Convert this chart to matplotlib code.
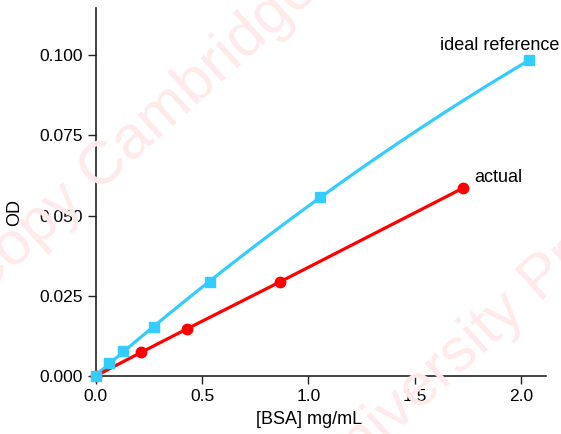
import matplotlib.pyplot as plt
import numpy as np

# BSA standard curve
ideal_x = [0.0, 0.063, 0.129, 0.274, 0.536, 1.054, 2.039]
ideal_od = [0.0, 0.0041, 0.0077, 0.0153, 0.0293, 0.0558, 0.0984]
actual_x = [0.0, 0.212, 0.427, 0.866, 1.729]
actual_od = [0.0, 0.0073, 0.0146, 0.0293, 0.0586]

x_ticks = [0.0, 0.5, 1.0, 1.5, 2.0]
y_ticks = [0.000, 0.025, 0.050, 0.075, 0.100]

blue = '#33ccff'
red = '#ff0000'
wm_color = '#ffeaea'

plt.rcParams['font.family'] = ['Liberation Sans', 'DejaVu Sans']

fig = plt.figure(figsize=(5.61, 4.34), dpi=100)
ax = fig.add_axes([0.171, 0.134, 0.802, 0.848])
ax.patch.set_alpha(0)

# faint watermark behind the plot, two tiled rows
wm_kw = dict(rotation=42, rotation_mode='anchor', va='baseline', fontsize=44,
             color=wm_color, zorder=0)
fig.text(0.175, 0.555, 'Cambridge University Press', ha='left', **wm_kw)
fig.text(0.175, 0.555, 'Copy ', ha='right', **wm_kw)
fig.text(0.583, -0.138, 'University Press', ha='left', **wm_kw)
fig.text(0.583, -0.138, 'Copy Cambridge ', ha='right', **wm_kw)

# smooth curve through the ideal points (quadratic fit)
coef = np.polyfit(ideal_x, ideal_od, 2)
xs = np.linspace(0, max(ideal_x), 200)
ax.plot(xs, np.polyval(coef, xs), color=blue, lw=2.3, zorder=3, clip_on=False)
ax.plot(ideal_x, ideal_od, 's', color=blue, ms=7.5, zorder=5, clip_on=False)

ax.plot(actual_x, actual_od, '-o', color=red, lw=2.3, ms=7.5, zorder=4, clip_on=False)

ax.text(1.62, 0.1005, 'ideal reference', fontsize=13, ha='left', va='bottom')
ax.text(1.78, 0.0618, 'actual', fontsize=13, ha='left', va='center')

ax.set_xlim(0, 2.118)
ax.set_ylim(0, 0.1148)
ax.set_xticks(x_ticks)
ax.set_xticklabels([f'{v:.1f}' for v in x_ticks])
ax.set_yticks(y_ticks)
ax.set_yticklabels([f'{v:.3f}' for v in y_ticks])
ax.tick_params(axis='both', labelsize=12.5, length=6, width=1, direction='out', color='#222222')

for side in ['top', 'right']:
    ax.spines[side].set_visible(False)
for side in ['left', 'bottom']:
    ax.spines[side].set_linewidth(1.2)
    ax.spines[side].set_color('#222222')

ax.set_xlabel('[BSA] mg/mL', fontsize=13)
ax.set_ylabel('OD', fontsize=13)
ax.xaxis.set_label_coords(0.473, -0.095)
ax.yaxis.set_label_coords(-0.162, 0.443)

fig.savefig('out.png', dpi=100)
